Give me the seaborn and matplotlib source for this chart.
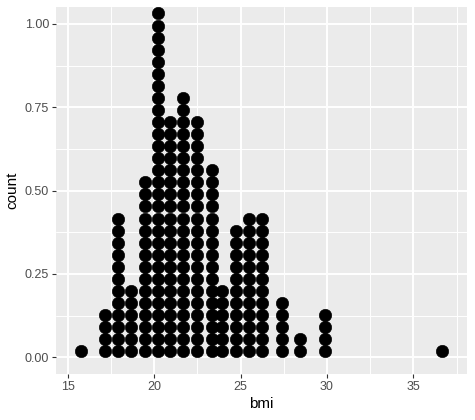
import numpy as np
import pandas as pd
import matplotlib
matplotlib.use("Agg")
import matplotlib.pyplot as plt
import seaborn as sns
from matplotlib.ticker import MultipleLocator

# dot stacks (bin centre on the bmi axis, dots in the stack)
bin_centers = [15.75, 17.16, 17.89, 18.66, 19.47, 20.21, 20.92, 21.66, 22.47,
               23.33, 23.91, 24.74, 25.47, 26.23, 27.40, 28.44, 29.89, 36.64]
bin_counts = [1, 4, 12, 6, 15, 29, 20, 22, 20, 16, 6, 11, 12, 12, 5, 2, 4, 1]
dot_step = 0.0362  # height of one dot on the count axis

x_ticks = [15, 20, 25, 30, 35]
y_ticks = [0.00, 0.25, 0.50, 0.75, 1.00]
y_tick_labels = ["0.00", "0.25", "0.50", "0.75", "1.00"]

# expand the stacks into one row per dot
rows = []
for c, n in zip(bin_centers, bin_counts):
    for i in range(n):
        rows.append({"bmi": c, "count": (i + 0.5) * dot_step})
df = pd.DataFrame(rows)

sns.set_theme(style="darkgrid")
plt.rcParams["font.family"] = ["Liberation Sans", "DejaVu Sans"]

fig = plt.figure(figsize=(4.75, 4.2), dpi=100)
ax = fig.add_axes([56 / 475, 1 - 374 / 420, (466.7 - 56) / 475, (374 - 7) / 420])
ax.set_facecolor("#EBEBEB")

sns.scatterplot(data=df, x="bmi", y="count", ax=ax, color="black",
                edgecolor="black", s=80, linewidth=0.4, zorder=3)

ax.set_xlim(14.32, 38.09)
ax.set_ylim(-0.05, 1.051)
ax.set_xticks(x_ticks)
ax.set_yticks(y_ticks)
ax.set_yticklabels(y_tick_labels)
ax.xaxis.set_minor_locator(MultipleLocator(2.5))
ax.yaxis.set_minor_locator(MultipleLocator(0.125))

ax.grid(which="major", color="white", linewidth=1.4)
ax.grid(which="minor", color="white", linewidth=0.7)
ax.set_axisbelow(True)
for sp in ax.spines.values():
    sp.set_visible(False)

ax.tick_params(which="major", length=3, width=0.8, color="#333333",
               labelcolor="#4D4D4D", labelsize=9, pad=2,
               bottom=True, left=True)
ax.tick_params(which="minor", length=0)

ax.set_xlabel("bmi", fontsize=11, color="black", labelpad=3)
ax.set_ylabel("count", fontsize=11, color="black", labelpad=4)

fig.savefig("out.png", dpi=100)
